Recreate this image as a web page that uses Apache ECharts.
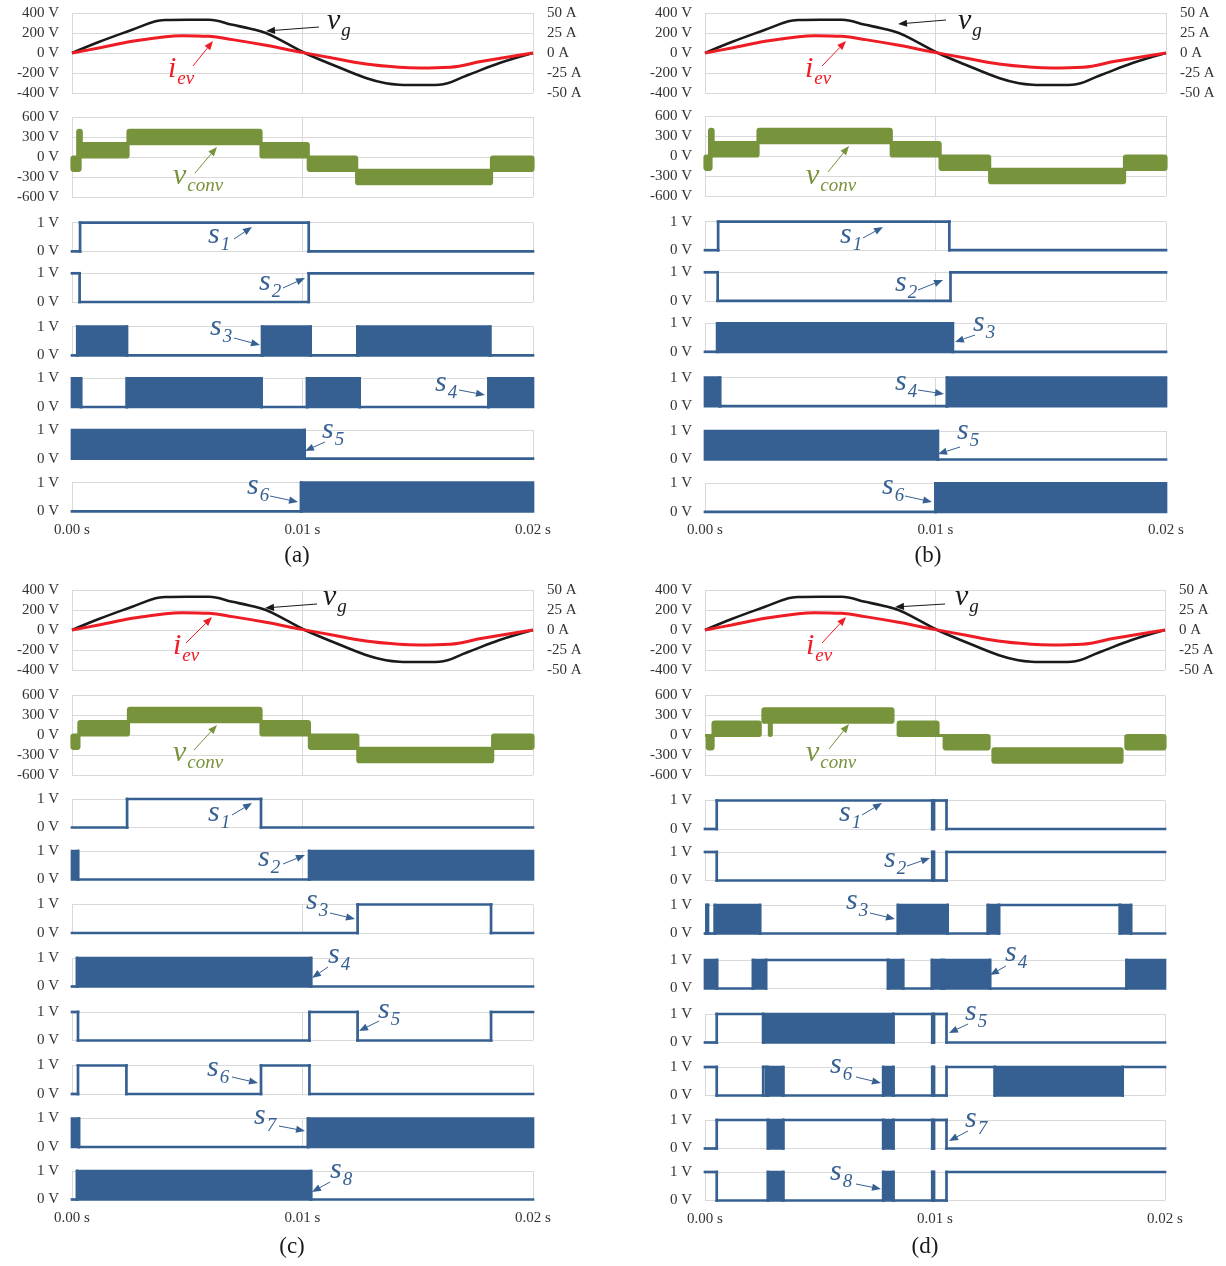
<!DOCTYPE html>
<html>
<head>
<meta charset="utf-8">
<script src="https://cdn.jsdelivr.net/npm/echarts@6/dist/echarts.min.js"></script>
<style>
  html, body { margin: 0; padding: 0; background: #fff; }
  #chart { width: 1226px; height: 1266px; }
</style>
</head>
<body>
<div id="chart"></div>
<script>
// ---------------------------------------------------------------
// Waveform data (time in ms, 0..20 ms = one 50 Hz grid period)
// ---------------------------------------------------------------
const P = 2; // state code: high-frequency switching interval

// grid voltage v_g  [V]
const vgTime  = [0, 1.16, 2.61, 3.62, 4.06, 5.0, 5.94, 6.96, 7.7, 8.41, 9.13, 10.1, 11.3, 12.75, 13.62, 14.2, 15.0, 15.94, 17.1, 18.55, 20];
const vgVolt  = [0, 110, 233, 317, 330, 333, 333, 282, 245, 200, 118, 0, -117, -250, -303, -317, -320, -317, -227, -100, 0];

// EV current i_ev  [A]
const ievTime = [0, 1.16, 2.61, 4.06, 4.78, 5.94, 6.96, 8.41, 10.03, 11.3, 12.75, 14.2, 15.07, 16.4, 17.8, 20];
const ievAmp  = [0, 6.3, 14.6, 20.4, 21.7, 20.8, 16.7, 9.6, 0.5, -6.3, -13.8, -17.9, -18.8, -17.9, -10.4, 0];

// converter voltage v_conv, switching bands: [t0, t1, low level, high level]  [V]
const convA = [[0, 0.35, -200, 0], [0.25, 0.4, 0, 400], [0.35, 2.43, 0, 200], [2.43, 8.2, 200, 400], [8.2, 10.25, 0, 200], [10.25, 12.35, -200, 0], [12.35, 18.2, -400, -200], [18.2, 20, -200, 0]];
const convB = [[0, 0.26, -200, 0], [0.2, 0.35, 0, 400], [0.3, 2.3, 0, 200], [2.3, 8.08, 200, 400], [8.08, 10.2, 0, 200], [10.2, 12.35, -200, 0], [12.35, 18.2, -400, -200], [18.2, 20, -200, 0]];
const convC = [[0, 0.3, -200, 0], [0.3, 2.45, 0, 200], [2.45, 8.2, 200, 400], [8.2, 10.3, 0, 200], [10.3, 12.4, -200, 0], [12.4, 18.25, -400, -200], [18.25, 20, -200, 0]];
const convD = [[0, 0.1, 0, 0], [0.1, 0.35, -200, 0], [0.35, 2.4, 0, 200], [2.52, 8.17, 200, 400], [2.8, 2.88, 0, 200], [8.4, 10.13, 0, 200], [10.13, 10.4, 0, 0], [10.4, 12.35, -200, 0], [12.52, 18.13, -400, -200], [18.3, 20, -200, 0]];

// gate signals: breakpoints [t, state], state 0 / 1 / P held until the next breakpoint
const s1A = [[0, 0], [0.35, 1], [10.27, 0]];
const s2A = [[0, 1], [0.33, 0], [10.27, 1]];
const s3A = [[0, 0], [0.23, P], [2.38, 0], [8.25, P], [10.35, 0], [12.38, P], [18.14, 0]];
const s4A = [[0, P], [0.39, 0], [2.38, P], [8.22, 0], [10.2, P], [12.48, 0], [18.07, P]];
const s5A = [[0, P], [10.09, 0]];
const s6A = [[0, 0], [9.94, P]];

const s1B = [[0, 0], [0.57, 1], [10.6, 0]];
const s2B = [[0, 1], [0.55, 0], [10.65, 1]];
const s3B = [[0, 0], [0.53, P], [10.75, 0]];
const s4B = [[0, P], [0.65, 0], [10.5, P]];
const s5B = [[0, P], [10.1, 0]];
const s6B = [[0, 0], [10.0, P]];

const s1C = [[0, 0], [2.39, 1], [8.2, 0]];
const s2C = [[0, P], [0.26, 0], [10.29, P]];
const s3C = [[0, 0], [12.39, 1], [18.18, 0]];
const s4C = [[0, 0], [0.22, P], [10.37, 0]];
const s5C = [[0, 1], [0.26, 0], [10.3, 1], [12.39, 0], [18.18, 1]];
const s6C = [[0, 0], [0.26, 1], [2.36, 0], [8.2, 1], [10.3, 0]];
const s7C = [[0, P], [0.3, 0], [10.24, P]];
const s8C = [[0, 0], [0.22, P], [10.37, 0]];

const s1D = [[0, 0], [0.51, 1], [9.88, 0], [9.95, 1], [10.5, 0]];
const s2D = [[0, 1], [0.51, 0], [9.88, 1], [9.95, 0], [10.5, 1]];
const s3D = [[0, 0], [0.06, 1], [0.13, 0], [0.43, P], [2.39, 0], [8.39, P], [10.55, 0], [12.3, P], [12.78, 1], [18.04, P], [18.52, 0]];
const s4D = [[0, P], [0.52, 0], [2.09, P], [2.65, 1], [7.96, P], [8.61, 0], [9.87, P], [10.29, 0], [10.39, P], [12.39, 0], [18.33, P]];
const s5D = [[0, 0], [0.51, 1], [2.53, P], [8.19, 1], [9.88, 0], [9.95, 1], [10.5, 0]];
const s6D = [[0, 1], [0.51, 0], [2.53, 1], [2.65, 0], [2.74, P], [3.4, 0], [7.75, P], [8.19, 0], [9.88, 1], [9.95, 0], [10.5, 1], [12.6, P], [18.16, 1]];
const s7D = [[0, 0], [0.51, 1], [2.74, P], [3.4, 1], [7.75, P], [8.19, 1], [9.88, 0], [9.95, 1], [10.5, 0]];
const s8D = [[0, 1], [0.51, 0], [2.74, P], [3.4, 0], [7.75, P], [8.19, 0], [9.88, 1], [9.95, 0], [10.5, 1]];

// axis ticks
const T_END = 20;
const timeTicks = { min: 0, max: 20, interval: 10 };
const vgTicks   = { min: -400, max: 400, interval: 200 };
const iTicks    = { min: -50, max: 50, interval: 25 };
const convTicks = { min: -600, max: 600, interval: 300 };
const gateTicks = { min: 0, max: 1, interval: 1 };

// ---------------------------------------------------------------
// Styles and layout
// ---------------------------------------------------------------
const FONT = '"Liberation Serif", "Times New Roman", serif';
const GRID_COLOR = '#d9d9d9';
const TEXT_COLOR = '#333333';
const BLACK = '#1a1a1a';
const RED = '#ee1c25';
const GREEN = '#77933c';
const BLUE = '#376092';
const SW_LINE = 2.7;

const panels = [
  { tag: '(a)', tagX: 297, tagY: 556, left: 72, width: 461, top: 13, convTop: 117,
    rowTops: [222.7, 273.3, 326.7, 378.3, 430, 482.7], rowH: 28.7,
    conv: convA, gates: [s1A, s2A, s3A, s4A, s5A, s6A],
    notes: [
      ['v', 'g', 327, 31, BLACK, [319, 27, 266, 31]],
      ['i', 'ev', 168, 79, RED, [193, 66, 213, 41]],
      ['v', 'conv', 173, 186, GREEN, [195, 173, 217, 147]],
      ['s', '1', 208, 245, BLUE, [234, 239, 252, 227]],
      ['s', '2', 259, 292, BLUE, [283, 288, 305, 278]],
      ['s', '3', 210, 337, BLUE, [234, 338, 260, 345]],
      ['s', '4', 435, 393, BLUE, [459, 390, 485, 395]],
      ['s', '5', 322, 440, BLUE, [325, 442, 305, 451]],
      ['s', '6', 247, 496, BLUE, [270, 496, 298, 502]]
    ] },
  { tag: '(b)', tagX: 928, tagY: 556, left: 705, width: 461, top: 13, convTop: 116,
    rowTops: [221.7, 272.3, 323.3, 377.7, 431, 483.3], rowH: 28.5,
    conv: convB, gates: [s1B, s2B, s3B, s4B, s5B, s6B],
    notes: [
      ['v', 'g', 958, 31, BLACK, [946, 20, 898, 24]],
      ['i', 'ev', 805, 79, RED, [822, 66, 846, 41]],
      ['v', 'conv', 806, 186, GREEN, [828, 172, 849, 146]],
      ['s', '1', 840, 245, BLUE, [863, 238, 883, 227]],
      ['s', '2', 895, 293, BLUE, [918, 290, 943, 280]],
      ['s', '3', 973, 333, BLUE, [975, 335, 955, 342]],
      ['s', '4', 895, 392, BLUE, [918, 390, 944, 394]],
      ['s', '5', 957, 441, BLUE, [960, 447, 938, 454]],
      ['s', '6', 882, 496, BLUE, [905, 496, 932, 502]]
    ] },
  { tag: '(c)', tagX: 292, tagY: 1247, left: 72, width: 461, top: 590, convTop: 695,
    rowTops: [799, 851, 904.5, 958, 1012, 1065.5, 1118.5, 1171], rowH: 28.5,
    conv: convC, gates: [s1C, s2C, s3C, s4C, s5C, s6C, s7C, s8C],
    notes: [
      ['v', 'g', 323, 607, BLACK, [317, 604, 265, 608]],
      ['i', 'ev', 173, 656, RED, [186, 643, 212, 617]],
      ['v', 'conv', 173, 763, GREEN, [194, 750, 217, 725]],
      ['s', '1', 208, 823, BLUE, [232, 815, 252, 803]],
      ['s', '2', 258, 868, BLUE, [283, 864, 305, 855]],
      ['s', '3', 306, 911, BLUE, [330, 913, 355, 919]],
      ['s', '4', 328, 965, BLUE, [328, 967, 312, 978]],
      ['s', '5', 378, 1020, BLUE, [379, 1021, 359, 1031]],
      ['s', '6', 207, 1078, BLUE, [232, 1077, 258, 1083]],
      ['s', '7', 254, 1126, BLUE, [279, 1126, 305, 1131]],
      ['s', '8', 330, 1180, BLUE, [330, 1182, 312, 1192]]
    ] },
  { tag: '(d)', tagX: 925, tagY: 1247, left: 705, width: 460, top: 590, convTop: 695.5,
    rowTops: [800.5, 852, 905, 960, 1014, 1067, 1120, 1172], rowH: 28.5,
    conv: convD, gates: [s1D, s2D, s3D, s4D, s5D, s6D, s7D, s8D],
    notes: [
      ['v', 'g', 955, 607, BLACK, [945, 604, 895, 607]],
      ['i', 'ev', 806, 656, RED, [822, 643, 846, 617]],
      ['v', 'conv', 806, 763, GREEN, [829, 749, 849, 724]],
      ['s', '1', 839, 823, BLUE, [862, 815, 882, 803]],
      ['s', '2', 884, 869, BLUE, [907, 866, 930, 858]],
      ['s', '3', 846, 911, BLUE, [870, 913, 895, 919]],
      ['s', '4', 1005, 963, BLUE, [1006, 966, 990, 975]],
      ['s', '5', 965, 1022, BLUE, [968, 1024, 949, 1033]],
      ['s', '6', 830, 1075, BLUE, [856, 1077, 881, 1083]],
      ['s', '7', 965, 1129, BLUE, [968, 1131, 949, 1141]],
      ['s', '8', 830, 1182, BLUE, [856, 1184, 881, 1189]]
    ] }
];

// ---------------------------------------------------------------
// Option builders
// ---------------------------------------------------------------
const grids = [], xAxes = [], yAxes = [], series = [], graphics = [];

function addGrid(left, top, width, height) {
  grids.push({ left, top, width, height, containLabel: false });
  return grids.length - 1;
}

function addXAxis(gridIndex, showLabels) {
  xAxes.push({
    gridIndex, type: 'value', min: timeTicks.min, max: timeTicks.max, interval: timeTicks.interval,
    axisLine: { show: false }, axisTick: { show: false },
    splitLine: { show: true, lineStyle: { color: GRID_COLOR, width: 1 } },
    axisLabel: { show: showLabels, margin: 11, fontFamily: FONT, fontSize: 15, color: TEXT_COLOR,
      formatter: v => (v / 1000).toFixed(2) + ' s' }
  });
  return xAxes.length - 1;
}

function addYAxis(gridIndex, ticks, unit, position, showSplit) {
  yAxes.push({
    gridIndex, type: 'value', position, min: ticks.min, max: ticks.max, interval: ticks.interval,
    axisLine: { show: false }, axisTick: { show: false },
    splitLine: { show: showSplit, lineStyle: { color: GRID_COLOR, width: 1 } },
    axisLabel: { margin: position === 'right' ? 14 : 13, fontFamily: FONT, fontSize: 15, color: TEXT_COLOR,
      align: position === 'right' ? 'left' : 'right',
      formatter: v => v + ' ' + unit }
  });
  return yAxes.length - 1;
}

function bandRender(params, api) {
  const a = api.coord([api.value(0), api.value(3)]);
  const b = api.coord([api.value(1), api.value(2)]);
  return {
    type: 'rect',
    shape: { x: a[0], y: a[1], width: b[0] - a[0], height: b[1] - a[1], r: 1.5 },
    style: { fill: GREEN, stroke: GREEN, lineWidth: 3.2, lineJoin: 'round' }
  };
}

function gateRender(params, api) {
  const t0 = api.value(0), t1 = api.value(1), s = api.value(2), prev = api.value(3);
  const lo = api.coord([t0, 0]);
  const hi = api.coord([t1, 1]);
  const lineStyle = { stroke: BLUE, lineWidth: SW_LINE, lineCap: 'square', fill: null };
  const kids = [];
  if (s === P) {
    kids.push({ type: 'rect',
      shape: { x: lo[0], y: hi[1], width: hi[0] - lo[0], height: lo[1] - hi[1] },
      style: { fill: BLUE, stroke: BLUE, lineWidth: SW_LINE } });
  } else {
    const y = s === 1 ? hi[1] : lo[1];
    kids.push({ type: 'line', shape: { x1: lo[0], y1: y, x2: hi[0], y2: y }, style: lineStyle });
  }
  if (prev !== s) {
    kids.push({ type: 'line', shape: { x1: lo[0], y1: lo[1], x2: lo[0], y2: hi[1] }, style: lineStyle });
  }
  return { type: 'group', children: kids };
}

function gateSegments(bps) {
  return bps.map((b, i) => [
    b[0],
    i + 1 < bps.length ? bps[i + 1][0] : T_END,
    b[1],
    i > 0 ? bps[i - 1][1] : b[1]
  ]);
}

// text measuring for subscripts
const measureCtx = document.createElement('canvas').getContext('2d');
function textWidth(str, font) { measureCtx.font = font; return measureCtx.measureText(str).width; }

const MAIN_SIZE = 30, SUB_SIZE = 19;
function addNote(main, sub, x, baseline, color, arrow) {
  const mainFont = 'italic ' + MAIN_SIZE + 'px ' + FONT;
  const subFont = 'italic ' + SUB_SIZE + 'px ' + FONT;
  const w = textWidth(main, mainFont);
  graphics.push({ type: 'text', x: x, y: baseline - 0.34 * MAIN_SIZE, z: 100,
    style: { text: main, font: mainFont, fill: color, verticalAlign: 'middle', align: 'left' } });
  graphics.push({ type: 'text', x: x + w + 1, y: baseline + 6 - 0.34 * SUB_SIZE, z: 100,
    style: { text: sub, font: subFont, fill: color, verticalAlign: 'middle', align: 'left' } });
  const [x1, y1, x2, y2] = arrow;
  const ang = Math.atan2(y2 - y1, x2 - x1), L = 9, W = 3.6;
  const bx = x2 - L * Math.cos(ang), by = y2 - L * Math.sin(ang);
  const nx = -Math.sin(ang) * W, ny = Math.cos(ang) * W;
  graphics.push({ type: 'line', z: 100, shape: { x1, y1, x2: bx, y2: by }, style: { stroke: color, lineWidth: 1 } });
  graphics.push({ type: 'polygon', z: 100, shape: { points: [[x2, y2], [bx + nx, by + ny], [bx - nx, by - ny]] }, style: { fill: color } });
}

panels.forEach(p => {
  // v_g and i_ev
  let g = addGrid(p.left, p.top, p.width, 80);
  let xi = addXAxis(g, false);
  const yl = addYAxis(g, vgTicks, 'V', 'left', true);
  const yr = addYAxis(g, iTicks, 'A', 'right', false);
  series.push({ type: 'line', xAxisIndex: xi, yAxisIndex: yl, showSymbol: false, smooth: 0.4, z: 3,
    lineStyle: { color: BLACK, width: 2.6 }, data: vgTime.map((t, i) => [t, vgVolt[i]]) });
  series.push({ type: 'line', xAxisIndex: xi, yAxisIndex: yr, showSymbol: false, smooth: 0.4, z: 4,
    lineStyle: { color: RED, width: 3 }, data: ievTime.map((t, i) => [t, ievAmp[i]]) });

  // v_conv
  g = addGrid(p.left, p.convTop, p.width, 80);
  xi = addXAxis(g, false);
  let yi = addYAxis(g, convTicks, 'V', 'left', true);
  series.push({ type: 'custom', xAxisIndex: xi, yAxisIndex: yi, renderItem: bandRender,
    encode: { x: [0, 1], y: [2, 3] }, data: p.conv, z: 3 });

  // gate signals
  p.gates.forEach((bps, k) => {
    g = addGrid(p.left, p.rowTops[k], p.width, p.rowH);
    xi = addXAxis(g, k === p.gates.length - 1);
    yi = addYAxis(g, gateTicks, 'V', 'left', true);
    series.push({ type: 'custom', xAxisIndex: xi, yAxisIndex: yi, renderItem: gateRender,
      encode: { x: [0, 1], y: [2] }, data: gateSegments(bps), z: 3 });
  });

  p.notes.forEach(n => addNote(n[0], n[1], n[2], n[3], n[4], n[5]));
  graphics.push({ type: 'text', x: p.tagX, y: p.tagY, z: 100,
    style: { text: p.tag, font: '23px ' + FONT, fill: '#1a1a1a', align: 'center', verticalAlign: 'middle' } });
});

const chart = echarts.init(document.getElementById('chart'));
chart.setOption({
  animation: false,
  backgroundColor: '#ffffff',
  grid: grids,
  xAxis: xAxes,
  yAxis: yAxes,
  series: series,
  graphic: graphics
});
</script>
</body>
</html>
